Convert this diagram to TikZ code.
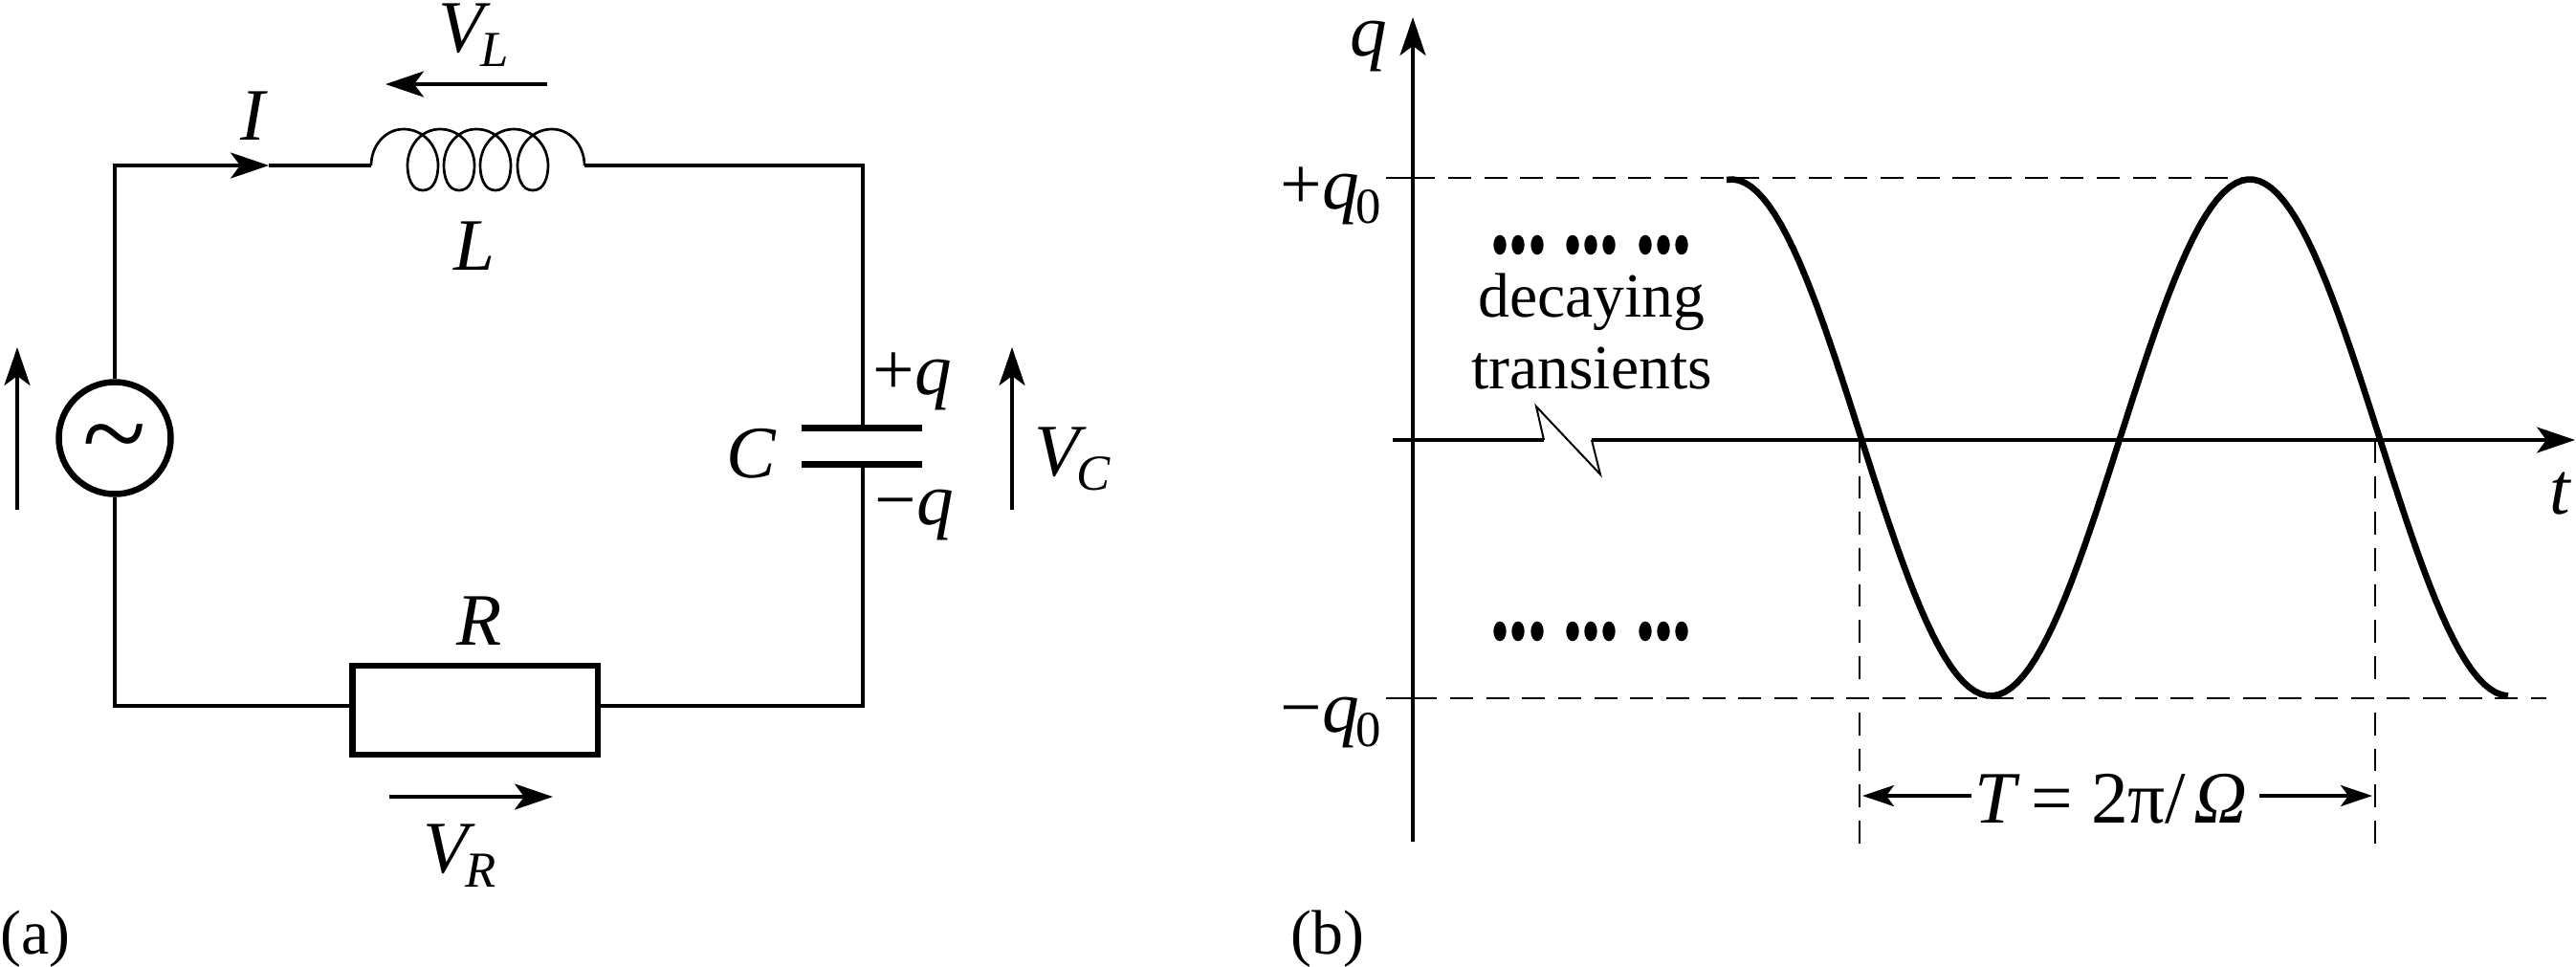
\documentclass[tikz,border=0pt]{standalone}
\usepackage{fontspec}
\setmainfont{Liberation Serif}
\usetikzlibrary{arrows.meta}
\newcommand{\subtxt}[2]{#1\kern-0.05em\raisebox{-0.15cm}{\fontsize{15}{15}\selectfont #2}}
\tikzset{
  wire/.style={line width=0.33mm},
  thinwire/.style={line width=0.2mm},
  bigtip/.style={-{Stealth[length=4mm,width=2.7mm,inset=1mm]}},
  smalltip/.style={-{Stealth[length=3.3mm,width=2.2mm,inset=0.8mm]}},
  hdash/.style={line width=0.28mm,dash pattern=on 0.24cm off 0.1367cm},
  vdash/.style={line width=0.2mm,dash pattern=on 0.235cm off 0.1417cm},
  curve/.style={line width=0.66mm},
  plate/.style={fill=black,minimum width=1.26cm,minimum height=0.07cm,inner sep=0pt,outer sep=0pt},
  lab/.style={inner sep=0pt,anchor=base,font=\fontsize{22}{25}\selectfont\itshape},
  lablw/.style={lab,anchor=base west},
  txt/.style={inner sep=0pt,anchor=base,font=\fontsize{18.7}{22}\selectfont},
}
\begin{document}
\begin{tikzpicture}
    \useasboundingbox (0,0) rectangle (26.93,-10.10);

    % circuit
    \node[circle,draw,line width=0.65mm,minimum size=1.17cm,inner sep=0pt] (src) at (1.2,-4.58) {};
    \node[inner sep=0pt,anchor=base,font=\fontsize{35}{35}\selectfont] (tilde) at (1.2,-4.94) {\symbol{126}};
    \node[draw,line width=0.68mm,minimum width=2.565cm,minimum height=0.93cm,inner sep=0pt] (res) at (4.9675,-7.425) {};
    \node[plate] (plateTop) at (9.01,-4.475) {};
    \node[plate] (plateBot) at (9.01,-4.85) {};

    \coordinate (topWire) at (9.02,-1.73);
    \coordinate (botWire) at (9.02,-7.38);
    \coordinate (leftBot) at (1.2,-7.38);
    \coordinate (iTip) at (2.81,-1.73);
    \coordinate (coilA) at (3.88,-1.73);
    \coordinate (coilB) at (6.11,-1.73);

    \draw[wire,bigtip] (src.north) |- (iTip);
    \draw[wire] (iTip) -- (coilA);
    \draw[wire] (coilB) -- (topWire) -- (plateTop.north -| topWire);
    \draw[wire] (plateBot.south -| botWire) -- (botWire) -- (res.east |- botWire);
    \draw[wire] (res.west |- leftBot) -- (leftBot) -- (src.south);

    % coil
    \draw[line width=0.27mm] (coilA) to[out=90,in=180] (4.22,-1.35);
    \foreach \d/\e in {0/0.38,0.38/0.76,0.76/1.15,1.15/1.55}
      \draw[line width=0.27mm] (4.22+\d,-1.35) to[out=0,in=90] (4.58+\d,-1.73) to[out=-90,in=0] (4.42+\d,-1.99)
        to[out=180,in=-90] (4.26+\d,-1.73) to[out=90,in=180] (4.22+\e,-1.35);
    \draw[line width=0.27mm] (5.77,-1.35) to[out=0,in=90] (coilB);

    % voltage arrows
    \coordinate (vsTail) at (0.18,-5.33);
    \coordinate (vsTip) at (0.18,-3.63);
    \coordinate (vlTail) at (5.72,-0.88);
    \coordinate (vlTip) at (4.03,-0.88);
    \coordinate (vcTail) at (10.58,-5.33);
    \coordinate (vcTip) at (10.58,-3.63);
    \coordinate (vrTail) at (4.07,-8.33);
    \coordinate (vrTip) at (5.78,-8.33);
    \draw[wire,bigtip] (vsTail) -- (vsTip);
    \draw[wire,bigtip] (vlTail) -- (vlTip);
    \draw[wire,bigtip] (vcTail) -- (vcTip);
    \draw[wire,bigtip] (vrTail) -- (vrTip);

    \node[lablw] (vlLab) at (4.58,-0.54) {\subtxt{V}{L}};
    \node[lab] (iLab) at (2.64,-1.46) {I};
    \node[lab] (lLab) at (4.96,-2.82) {L};
    \node[lab] (rLab) at (5.01,-6.74) {R};
    \node[lablw] (vrLab) at (4.42,-9.12) {\subtxt{V}{R}};
    \node[lablw] (vcLab) at (10.81,-4.97) {\subtxt{V}{C}};
    \node[lab] (cLab) at (7.85,-4.99) {C};
    \node[lab] (pqLab) at (9.54,-4.12) {\textup{+}q};
    \node[lab] (mqLab) at (9.56,-5.48) {\textup{−}q};
    \node[txt,anchor=base west] (aLab) at (0,-9.97) {(a)};

    % graph
    \coordinate (qBot) at (14.77,-8.8);
    \coordinate (qTop) at (14.77,-0.18);
    \coordinate (tStart) at (14.56,-4.6);
    \coordinate (breakA) at (16.14,-4.6);
    \coordinate (breakB) at (16.06,-4.25);
    \coordinate (breakC) at (16.73,-4.96);
    \coordinate (breakD) at (16.64,-4.6);
    \coordinate (tEnd) at (26.92,-4.6);
    \draw[wire,bigtip] (qBot) -- (qTop);
    \draw[wire] (tStart) -- (breakA);
    \draw[thinwire] (breakA) -- (breakB) -- (breakC) -- (breakD);
    \draw[wire,bigtip] (breakD) -- (tEnd);

    \draw[curve] plot[domain=18.05:26.22,samples=130,variable=\x] (\x,{-4.575+2.7*cos(360*(\x-18.1)/5.42)});

    \draw[line width=0.28mm] (14.49,-1.86) -- (15,-1.86);
    \draw[hdash] (15.14,-1.86) -- (23.44,-1.86);
    \draw[line width=0.28mm] (14.49,-7.3) -- (15.02,-7.3);
    \draw[hdash] (15.16,-7.3) -- (26.62,-7.3);

    \draw[vdash] (19.44,-4.6) -- (19.44,-7.12);
    \draw[vdash] (19.44,-7.45) -- (19.44,-8.82);
    \draw[vdash] (24.83,-4.6) -- (24.83,-7.12);
    \draw[vdash] (24.83,-7.45) -- (24.83,-8.82);

    \foreach \y in {-2.56,-6.6}
      \foreach \x in {15.68,15.87,16.07,16.44,16.63,16.82,17.2,17.39,17.58}
        \fill (\x,\y) ellipse (0.067 and 0.103);

    \node[lab] (qLab) at (14.31,-0.58) {q};
    \node[lab] (tLab) at (26.76,-5.37) {t};
    \node[lablw] (pqoLab) at (13.38,-2.18) {\subtxt{\textup{+}q}{\textup{0}}};
    \node[lablw] (mqoLab) at (13.38,-7.65) {\subtxt{\textup{−}q}{\textup{0}}};
    \node[txt] (decLab) at (16.64,-3.31) {decaying};
    \node[txt] (traLab) at (16.64,-4.06) {transients};

    \coordinate (perLeftTail) at (20.61,-8.32);
    \coordinate (perLeftTip) at (19.47,-8.32);
    \coordinate (perRightTail) at (23.62,-8.32);
    \coordinate (perRightTip) at (24.8,-8.32);
    \draw[wire,smalltip] (perLeftTail) -- (perLeftTip);
    \draw[wire,smalltip] (perRightTail) -- (perRightTip);
    \node[lab,font=\fontsize{22}{25}\selectfont] (perLab) at (22.07,-8.6) {\textit{T}\kern0.14em=\kern0.25em2π/\kern0.1em\textit{Ω}};
    \node[txt,anchor=base west] (bLab) at (13.49,-9.97) {(b)};

  \end{tikzpicture}
\end{document}
